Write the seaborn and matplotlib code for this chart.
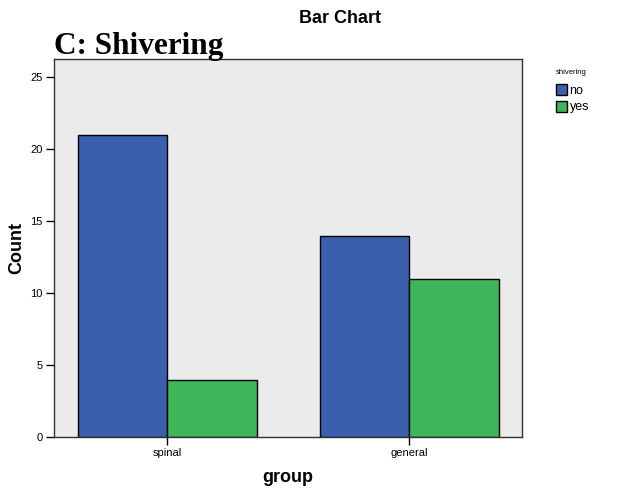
import matplotlib
matplotlib.use("Agg")
import matplotlib.pyplot as plt
import seaborn as sns
import pandas as pd
from matplotlib.patches import Patch

groups = ["spinal", "general"]
shivering = ["no", "yes"]
count_no = [21, 14]
count_yes = [4, 11]

df = pd.DataFrame({
    "group": groups * 2,
    "shivering": ["no"] * 2 + ["yes"] * 2,
    "Count": count_no + count_yes,
})

palette = {"no": "#3A5FAD", "yes": "#3FB55A"}

sns.set_style("white")
plt.rcParams['font.family'] = ['Liberation Sans', 'DejaVu Sans']
plt.rcParams['text.color'] = 'black'
plt.rcParams['axes.labelcolor'] = 'black'
plt.rcParams['xtick.color'] = 'black'
plt.rcParams['ytick.color'] = 'black'

fig = plt.figure(figsize=(6.26, 4.9), dpi=100)
ax = fig.add_axes([0.0863, 0.108, 0.748, 0.772])
ax.set_facecolor("#EBEBEB")

sns.barplot(data=df, x="group", y="Count", hue="shivering", order=groups,
            hue_order=shivering, palette=palette, width=0.74, gap=0,
            edgecolor="black", linewidth=1.0, saturation=1, ax=ax, legend=False)

ax.set_xlim(-0.467, 1.467)
ax.set_ylim(0, 26.3)
ax.set_yticks([0, 5, 10, 15, 20, 25])
ax.tick_params(axis="both", direction="out", length=6, width=1, color="black",
               labelsize=8, left=True, bottom=True, pad=2)
for s in ax.spines.values():
    s.set_color("#333333")
    s.set_linewidth(1)

ax.set_xlabel("group", fontsize=13, fontweight="bold", labelpad=8)
ax.set_ylabel("Count", fontsize=13, fontweight="bold", labelpad=4)

fig.text(0.543, 0.963, "Bar Chart", ha="center", va="center", fontsize=13, fontweight="bold")
fig.text(0.086, 0.905, "C: Shivering", ha="left", va="center", fontsize=22.5,
         fontweight="bold", family=["Liberation Serif"])

handles = [Patch(facecolor=palette[k], edgecolor="black", label=k) for k in shivering]
leg = fig.legend(handles=handles, title="shivering", loc="upper left",
                 bbox_to_anchor=(0.888, 0.86), frameon=False, fontsize=9,
                 title_fontsize=5.5, handlelength=0.85, handleheight=1.0,
                 handletextpad=0.25, labelspacing=0.3, borderpad=0,
                 borderaxespad=0)
leg._legend_box.align = "left"
leg._legend_box.sep = 6

fig.savefig("out.png", dpi=100)
